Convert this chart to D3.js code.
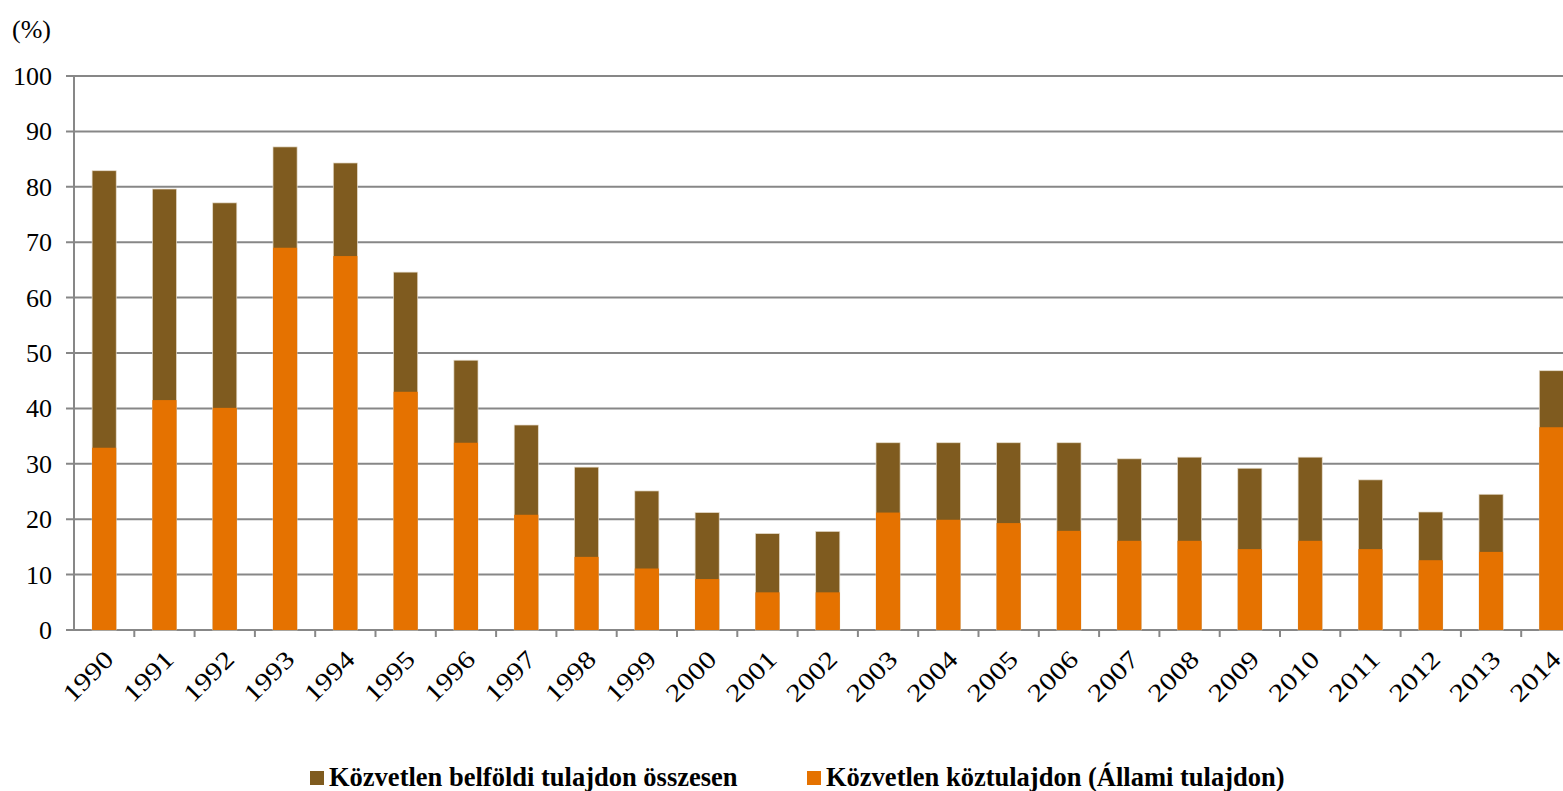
<!DOCTYPE html>
<html>
<head>
<meta charset="utf-8">
<script src="https://cdn.jsdelivr.net/npm/d3@7"></script>
<style>
  body { margin: 0; background: #fff; overflow: hidden; }
  text { font-family: "Liberation Serif", "Times New Roman", serif; fill: #000; }
</style>
</head>
<body>
<svg id="chart" width="1563" height="791"></svg>
<script>
// chart data: total domestic ownership and the public part of it (%)
var years = ["1990","1991","1992","1993","1994","1995","1996","1997","1998","1999","2000","2001","2002",
             "2003","2004","2005","2006","2007","2008","2009","2010","2011","2012","2013","2014"];
var belfoldi = [82.9, 79.6, 77.1, 87.2, 84.3, 64.6, 48.7, 37.0, 29.4, 25.1, 21.2, 17.4, 17.8,
                33.8, 33.8, 33.8, 33.8, 30.9, 31.2, 29.2, 31.2, 27.1, 21.3, 24.5, 46.8];
var koz = [32.9, 41.5, 40.1, 69.0, 67.5, 43.0, 33.8, 20.8, 13.2, 11.1, 9.2, 6.8, 6.8,
           21.2, 19.9, 19.3, 17.9, 16.1, 16.1, 14.6, 16.1, 14.6, 12.6, 14.1, 36.6];
var yTicks = [0, 10, 20, 30, 40, 50, 60, 70, 80, 90, 100];
var legendNames = ["Közvetlen belföldi tulajdon összesen", "Közvetlen köztulajdon (Állami tulajdon)"];
var colors = ["#7f5b1f", "#e57200"];

var svg = d3.select("#chart"),
    plotLeft = 74, plotRight = 1581.5, plotTop = 76, plotBottom = 630;

var x = d3.scaleBand()
    .domain(years)
    .range([plotLeft, plotRight])
    .paddingInner(0.6)
    .paddingOuter(0.3);

var y = d3.scaleLinear()
    .domain([0, 100])
    .range([plotBottom, plotTop]);

// gridlines
svg.append("g")
    .selectAll("line")
    .data(yTicks)
    .enter().append("line")
    .attr("x1", plotLeft - 8)
    .attr("x2", 1563)
    .attr("y1", function(d) { return y(d) })
    .attr("y2", function(d) { return y(d) })
    .attr("stroke", "#878787")
    .attr("stroke-width", 2);

// y labels
svg.append("g")
    .selectAll("text")
    .data(yTicks)
    .enter().append("text")
    .attr("x", 52)
    .attr("y", function(d) { return y(d) + 9 })
    .attr("text-anchor", "end")
    .style("font-size", "26px")
    .text(function(d) { return d });

svg.append("text")
    .attr("x", 12)
    .attr("y", 38)
    .style("font-size", "26px")
    .text("(%)");

// bars: total first, public part on top of it
var rows = years.map(function(yr, i) { return [yr, belfoldi[i], koz[i]] });

svg.append("g")
    .selectAll("rect")
    .data(rows)
    .enter().append("rect")
    .attr("x", function(d) { return x(d[0]) })
    .attr("y", function(d) { return y(d[1]) })
    .attr("width", x.bandwidth())
    .attr("height", function(d) { return y(0) - y(d[1]) })
    .attr("fill", colors[0])
    .attr("stroke", "#e6dccb")
    .attr("stroke-width", 0.7);

svg.append("g")
    .selectAll("rect")
    .data(rows)
    .enter().append("rect")
    .attr("x", function(d) { return x(d[0]) })
    .attr("y", function(d) { return y(d[2]) })
    .attr("width", x.bandwidth())
    .attr("height", function(d) { return y(0) - y(d[2]) })
    .attr("fill", colors[1]);

// axis lines
svg.append("line")
    .attr("x1", plotLeft).attr("x2", plotLeft)
    .attr("y1", plotTop).attr("y2", plotBottom + 1)
    .attr("stroke", "#878787").attr("stroke-width", 2);

var step = x.step();
svg.append("g")
    .selectAll("line")
    .data(years.slice(1))
    .enter().append("line")
    .attr("x1", function(d) { return x(d) - step * 0.3 })
    .attr("x2", function(d) { return x(d) - step * 0.3 })
    .attr("y1", plotBottom)
    .attr("y2", plotBottom + 7)
    .attr("stroke", "#878787")
    .attr("stroke-width", 2);

// x labels, rotated
svg.append("g")
    .selectAll("text")
    .data(years)
    .enter().append("text")
    .attr("transform", function(d) {
        return "translate(" + (x(d) + x.bandwidth() / 2 + 11) + "," + (plotBottom + 31) + ") rotate(-45)";
    })
    .attr("text-anchor", "end")
    .attr("textLength", 60)
    .attr("lengthAdjust", "spacingAndGlyphs")
    .style("font-size", "25px")
    .text(function(d) { return d });

// legend
var legX = [310, 807];
legendNames.forEach(function(name, i) {
    svg.append("rect")
        .attr("x", legX[i]).attr("y", 771)
        .attr("width", 14).attr("height", 14)
        .attr("fill", colors[i]);
    svg.append("text")
        .attr("x", legX[i] + 19)
        .attr("y", 786)
        .style("font-size", "26.5px")
        .style("font-weight", "bold")
        .text(name);
});
</script>
</body>
</html>
